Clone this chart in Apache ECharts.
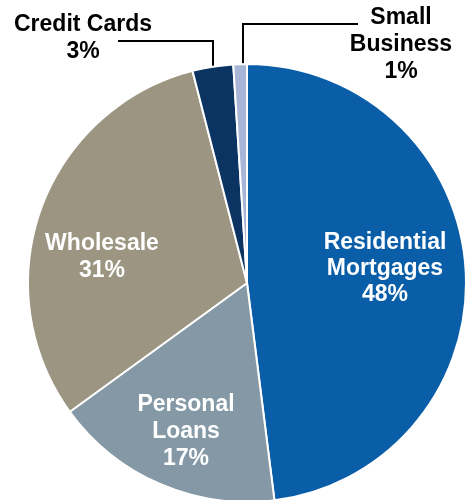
<!DOCTYPE html>
<html>
<head>
<meta charset="utf-8">
<script src="https://cdn.jsdelivr.net/npm/echarts@6/dist/echarts.min.js"></script>
<style>
  html, body { margin: 0; padding: 0; background: #fff; }
  #chart { width: 466px; height: 500px; }
</style>
</head>
<body>
<div id="chart"></div>
<script>
// Loan portfolio mix, clockwise from 12 o'clock
const categories = ['Residential\nMortgages', 'Personal\nLoans', 'Wholesale', 'Credit Cards', 'Small\nBusiness'];
const shares = [48, 17, 31, 3, 1];

const sliceColors = ['#0A5EA8', '#8598A6', '#9B9582', '#0B3463', '#A9B5D7'];
const outsideLabel = [false, false, false, true, true];

// Label anchor points (block centres) and leader-line routes, by slice index
const labelAnchors = [[385, 269], [186, 432], [102, 257], [83, 38], [401, 45]];
const leaderRoutes = {
  3: [[213, 66], [213, 41], [118, 41]],
  4: [[243, 65], [243, 24], [358, 24]]
};

const chart = echarts.init(document.getElementById('chart'), null, { renderer: 'canvas' });

chart.setOption({
  animation: false,
  series: [{
    type: 'pie',
    center: [247, 283],
    radius: [0, 219],
    startAngle: 90,
    clockwise: true,
    avoidLabelOverlap: false,
    itemStyle: { borderColor: '#ffffff', borderWidth: 2 },
    label: {
      show: true,
      position: 'outside',
      formatter: p => p.name + '\n' + p.value + '%',
      fontFamily: '"Liberation Sans", Arial, sans-serif',
      fontWeight: 'bold',
      fontSize: 23,
      lineHeight: 27,
      align: 'center'
    },
    labelLine: { show: false, lineStyle: { color: '#000', width: 2 } },
    labelLayout: p => {
      const a = labelAnchors[p.dataIndex];
      const out = { x: a[0], y: a[1], align: 'center', verticalAlign: 'middle' };
      if (leaderRoutes[p.dataIndex]) out.labelLinePoints = leaderRoutes[p.dataIndex];
      return out;
    },
    data: categories.map((name, i) => ({
      name: name,
      value: shares[i],
      itemStyle: { color: sliceColors[i] },
      label: { color: outsideLabel[i] ? '#000000' : '#ffffff', lineHeight: i === 0 ? 26 : 27 },
      labelLine: { show: outsideLabel[i], smooth: false, length: 10, length2: 10 }
    }))
  }]
});
</script>
</body>
</html>
